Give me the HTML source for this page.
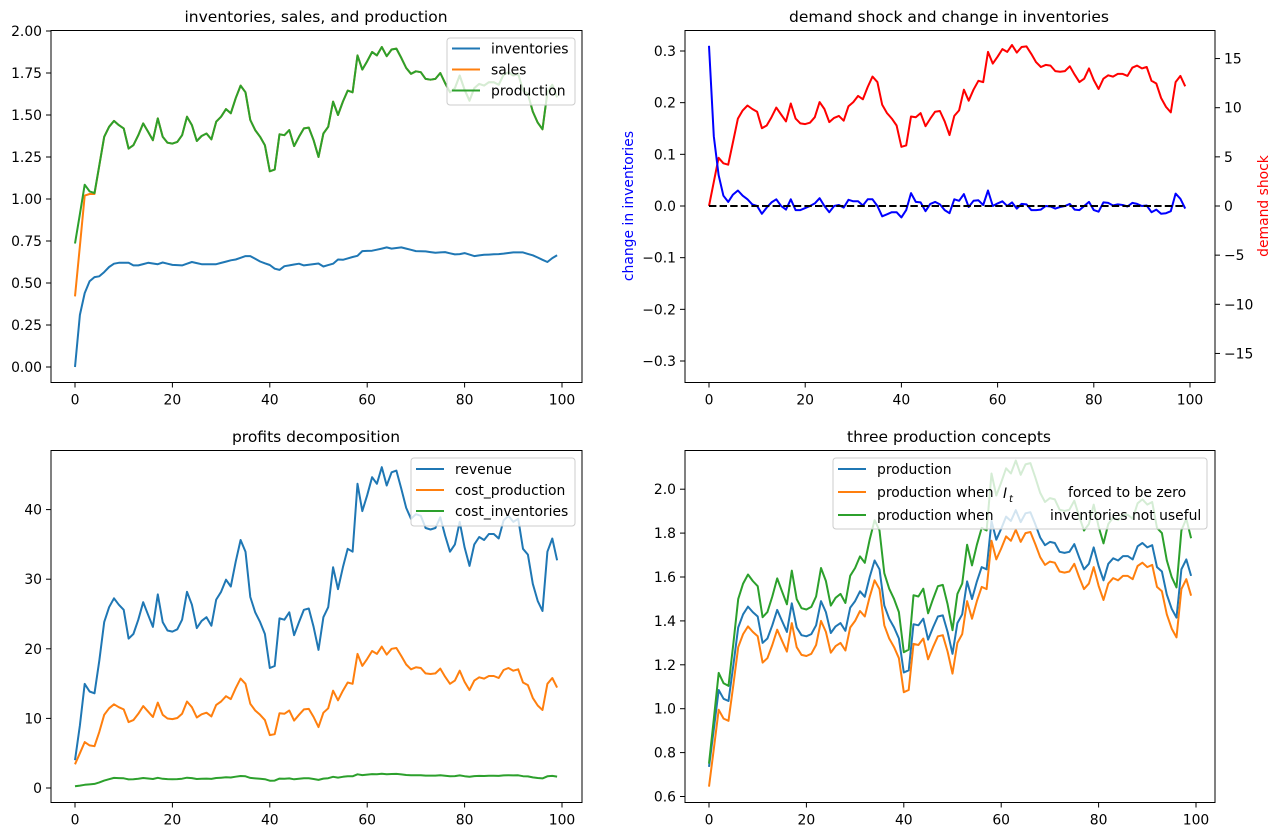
<!DOCTYPE html>
<html><head><meta charset="utf-8"><style>
html,body{margin:0;padding:0;background:#fff;}
svg{display:block;font-family:"DejaVu Sans","Liberation Sans",sans-serif;}
</style></head><body>
<svg id="s" width="1281" height="834" xmlns="http://www.w3.org/2000/svg"></svg>
<script>
const p=[0.735,0.91,1.085,1.045,1.035,1.2,1.37,1.43,1.465,1.44,1.42,1.30,1.32,1.38,1.45,1.40,1.35,1.48,1.37,1.335,1.33,1.34,1.38,1.49,1.44,1.345,1.375,1.39,1.355,1.46,1.49,1.535,1.51,1.60,1.675,1.635,1.47,1.41,1.37,1.32,1.165,1.175,1.385,1.38,1.41,1.315,1.37,1.42,1.425,1.35,1.25,1.39,1.43,1.58,1.50,1.58,1.645,1.635,1.855,1.77,1.82,1.875,1.855,1.905,1.85,1.89,1.895,1.84,1.78,1.745,1.76,1.755,1.715,1.71,1.715,1.75,1.69,1.635,1.66,1.735,1.65,1.585,1.66,1.685,1.675,1.695,1.695,1.68,1.74,1.755,1.735,1.745,1.645,1.625,1.52,1.455,1.415,1.635,1.68,1.605];
const sales=p.slice();sales[0]=0.42;sales[1]=0.72;sales[2]=1.02;sales[3]=1.03;sales[4]=1.03;
const invK=[[0,0],[1,0.31],[2,0.44],[3,0.51],[4,0.535],[5,0.54],[6,0.565],[7,0.595],[8,0.615],[9,0.62],[11,0.62],[12,0.605],[13,0.605],[15,0.62],[17,0.612],[18,0.622],[20,0.608],[22,0.605],[24,0.625],[26,0.612],[29,0.612],[32,0.635],[33,0.64],[35,0.66],[36,0.66],[38,0.628],[40,0.607],[41,0.585],[42,0.578],[43,0.6],[46,0.615],[47,0.605],[50,0.616],[51,0.598],[53,0.615],[54,0.64],[55,0.638],[57,0.655],[58,0.662],[59,0.69],[61,0.692],[63,0.705],[64,0.712],[65,0.705],[67,0.712],[70,0.69],[72,0.688],[74,0.68],[76,0.684],[78,0.67],[79,0.672],[80,0.678],[82,0.66],[84,0.668],[87,0.672],[88,0.675],[90,0.682],[92,0.682],[94,0.665],[97,0.625],[98,0.648],[99,0.665]];
function interp(K){const r=[];for(let t=0;t<100;t++){for(let i=0;i<K.length-1;i++){if(t>=K[i][0]&&t<=K[i+1][0]){const f=(t-K[i][0])/(K[i+1][0]-K[i][0]||1);r.push(K[i][1]+f*(K[i+1][1]-K[i][1]));break;}}}return r;}
const inv=interp(invK);
const dI=[0.31,0.135,0.06,0.02,0.008,0.022,0.03,0.02,0.013,0.003,0,-0.015,-0.003,0.007,0.013,0,-0.007,0.013,-0.008,-0.008,-0.004,0,0.005,0.015,0,-0.012,0,0.002,-0.003,0.012,0.009,0.009,0.001,0.013,0.013,0,-0.02,-0.016,-0.012,-0.012,-0.022,-0.008,0.025,0.008,0.007,-0.01,0.004,0.008,0.003,-0.008,-0.014,0.013,0.01,0.023,-0.002,0.01,0.011,0.002,0.03,0,0.005,0.009,0,0.007,-0.005,0.004,0.003,-0.008,-0.008,-0.007,0,-0.001,-0.005,-0.002,0,0.004,-0.007,-0.008,0,0.008,-0.008,-0.011,0.007,0.006,0.001,0.003,0.002,-0.001,0.006,0.004,0,0.001,-0.012,-0.007,-0.015,-0.014,-0.01,0.024,0.014,-0.005];
const shock=p.map(v=>14*(v-0.735));
const rev=p.map(v=>12.7*v*v);rev[0]=4;rev[1]=9;
const cp=p.map(v=>5.6*v*v);cp[0]=3.4;cp[1]=5;
const ci=p.map((v,i)=>0.3+0.95*(v-0.6)*1.4*(i<8?i/8:1));
ci[0]=0.25;
const po=p.map(v=>v-0.09);
const pg=p.map(v=>v+0.18*(v-0.735)+0.015);
const C1='#1f77b4',C2='#ff7f0e',C3='#2ca02c';
let h='';
function line(d,X,Y,c,extra){let s='';d.forEach((v,i)=>{s+=(i?'L':'M')+X(i).toFixed(1)+' '+Y(v).toFixed(1);});h+=`<path d="${s}" fill="none" stroke="${c}" stroke-width="2" stroke-linejoin="round" ${extra||''}/>`;}
function frame(x0,x1,y0,y1){h+=`<rect x="${x0}" y="${y0}" width="${x1-x0}" height="${y1-y0}" fill="none" stroke="#000" stroke-width="1"/>`;}
function xt(X,y1){for(let t=0;t<=100;t+=20){const x=X(t);h+=`<line x1="${x}" y1="${y1}" x2="${x}" y2="${y1+5}" stroke="#000"/><text x="${x}" y="${y1+22}" font-size="13.9" text-anchor="middle">${t}</text>`;}}
function yt(x0,vals,Y,lab,right){vals.forEach(v=>{const y=Y(v);if(right){h+=`<line x1="${x0}" y1="${y}" x2="${x0+5}" y2="${y}" stroke="#000"/><text x="${x0+9}" y="${y+5}" font-size="13.9">${lab(v)}</text>`;}else{h+=`<line x1="${x0-5}" y1="${y}" x2="${x0}" y2="${y}" stroke="#000"/><text x="${x0-9}" y="${y+5}" font-size="13.9" text-anchor="end">${lab(v)}</text>`;}});}
function title(x,y,s){h+=`<text x="${x}" y="${y}" font-size="15.5" text-anchor="middle">${s}</text>`;}
function legbox(x,y,w,hh){h+=`<rect x="${x}" y="${y}" width="${w}" height="${hh}" rx="3" fill="#fff" fill-opacity="0.8" stroke="#ccc"/>`;}
function legitem(x,y,c,s){h+=`<line x1="${x}" y1="${y}" x2="${x+28}" y2="${y}" stroke="${c}" stroke-width="2"/>`;if(s)h+=`<text x="${x+39}" y="${y+5}" font-size="13.9">${s}</text>`;}
const mn=v=>v<0?'\u2212'+Math.abs(v):''+v;
{const X=t=>75+t*4.87,Y=v=>367-v*168;
line(inv,X,Y,C1);line(sales,X,Y,C2);line(p,X,Y,C3);
frame(51,582,30.5,382.5);xt(X,382.5);
yt(51,[0,0.25,0.5,0.75,1,1.25,1.5,1.75,2],Y,v=>v.toFixed(2));
title(316,22,'inventories, sales, and production');
legbox(447,38,128,67);legitem(452,48.5,C1,'inventories');legitem(452,69.5,C2,'sales');legitem(452,90.5,C3,'production');}
{const X=t=>709+t*4.81,Yl=v=>206-v*516.7,Yr=v=>206-v*9.83;
line(shock,X,Yr,'red');line(dI,X,Yl,'blue');
h+=`<line x1="${X(0)}" y1="206" x2="${X(99)}" y2="206" stroke="#000" stroke-width="2" stroke-dasharray="7.4,3.2"/>`;
frame(685,1215,30.5,382.5);xt(X,382.5);
yt(685,[-0.3,-0.2,-0.1,0,0.1,0.2,0.3],Yl,v=>mn(+v.toFixed(1)).replace(/^(\u2212?)(\d)$/,'$1$2.0'));
yt(1215,[-15,-10,-5,0,5,10,15],Yr,mn,true);
title(949,22,'demand shock and change in inventories');
h+=`<text transform="translate(633,206) rotate(-90)" font-size="13.9" text-anchor="middle" fill="blue">change in inventories</text>`;
h+=`<text transform="translate(1268,206) rotate(-90)" font-size="13.9" text-anchor="middle" fill="red">demand shock</text>`;}
{const X=t=>75+t*4.87,Y=v=>788-v*6.96;
line(rev,X,Y,C1);line(cp,X,Y,C2);line(ci,X,Y,C3);
frame(51,582,450.5,802.5);xt(X,802.5);
yt(51,[0,10,20,30,40],Y,v=>''+v);
title(316,442,'profits decomposition');
legbox(411,458,164,68);legitem(416,469,C1,'revenue');legitem(416,490,C2,'cost_production');legitem(416,511,C3,'cost_inventories');}
{const X=t=>709+t*4.87,Y=v=>796.5-(v-0.6)*219.5;
line(p,X,Y,C1);line(po,X,Y,C2);line(pg,X,Y,C3);
frame(685,1215,450.5,802.5);xt(X,802.5);
yt(685,[0.6,0.8,1.0,1.2,1.4,1.6,1.8,2.0],Y,v=>v.toFixed(1));
title(949,442,'three production concepts');
legbox(833,458,374,71);legitem(838,469,C1,'production');legitem(838,492,C2,'production when');legitem(838,515,C3,'production when');
h+=`<text x="1003" y="498" font-size="13.9" font-style="italic">I</text><text x="1009" y="502" font-size="10" font-style="italic">t</text>`;
h+=`<text x="1068" y="497" font-size="13.9">forced to be zero</text><text x="1050" y="520" font-size="13.9">inventories not useful</text>`;}
document.getElementById('s').innerHTML=h;
</script>
</body></html>
